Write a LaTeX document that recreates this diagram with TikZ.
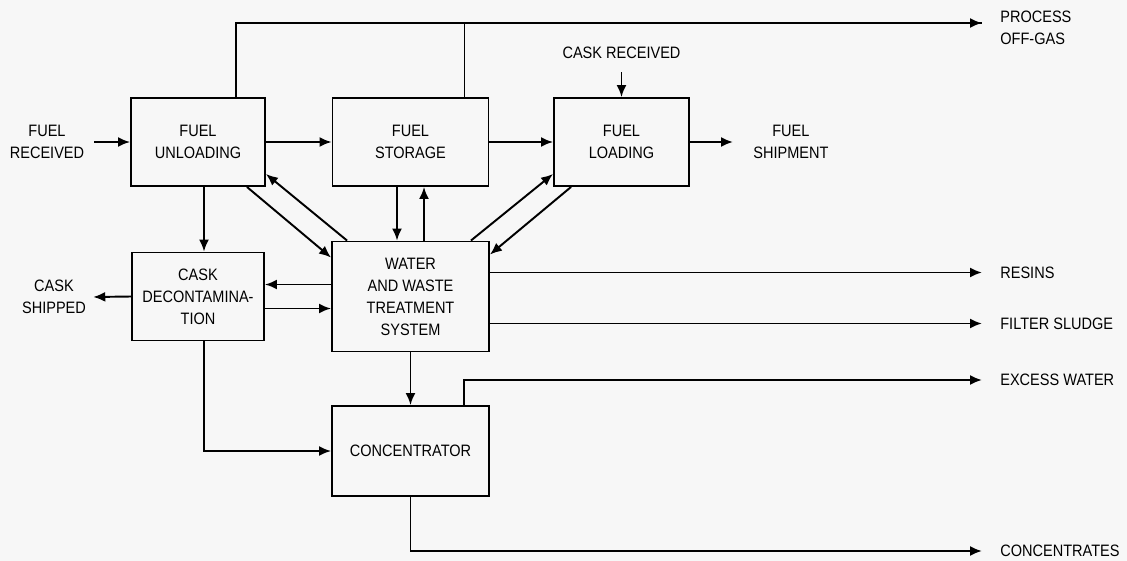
\documentclass[tikz,border=0pt]{standalone}
\usepackage{fontspec}
\setmainfont{Liberation Sans}[FakeStretch=0.88]
\usetikzlibrary{arrows.meta, positioning, calc}

\begin{document}
\begin{tikzpicture}[
    x=0.02cm, y=-0.02cm,
    every node/.style={font=\fontsize{9.4}{12.5}\selectfont},
    block/.style={rectangle, draw=black, line width=1.1pt, align=center, inner sep=0pt, minimum height=1.76cm},
    flowtext/.style={align=center, inner sep=0pt},
    line/.style={line width=1.1pt},
    arrow/.style={line width=1.1pt, -{Latex[length=2.4mm, width=2mm]}}
]

\useasboundingbox (0,0) rectangle (1127,561);
\fill[black!3] (0,0) rectangle (1127,561);

% process blocks
\node (unload) [block, minimum width=2.68cm] at (198,142) {FUEL\\UNLOADING};
\node (storage) [block, minimum width=3.12cm] at (410.5,142) {FUEL\\STORAGE};
\node (loading) [block, minimum width=2.7cm] at (621.5,142) {FUEL\\LOADING};
\node (cask) [block, minimum width=2.64cm] at (198,296.5) {CASK\\DECONTAMINA-\\TION};
\node (water) [block, minimum width=3.14cm, minimum height=2.2cm] at (410.5,296.5) {WATER\\AND WASTE\\TREATMENT\\SYSTEM};
\node (conc) [block, minimum width=3.14cm, minimum height=1.8cm] at (410.5,451) {CONCENTRATOR};

% inputs and outputs
\node (frecv) [flowtext] at (47,142) {FUEL\\RECEIVED};
\node (crecv) [flowtext] at (621.5,53) {CASK RECEIVED};
\node (fship) [flowtext, anchor=west] at (753,142) {FUEL\\SHIPMENT};
\node (cship) [flowtext] at (54,297) {CASK\\SHIPPED};

\coordinate (offgas-in) at (982,23);
\coordinate (resins-in) at (982,272.5);
\coordinate (sludge-in) at (982,323.5);
\coordinate (excess-in) at (982,380);
\coordinate (concout-in) at (982,551);

\node (offgas) [flowtext, align=left, anchor=north west] at (1000,11) {PROCESS\\OFF-GAS};
\node (resins) [flowtext, right=0.36cm of resins-in] {RESINS};
\node (sludge) [flowtext, right=0.36cm of sludge-in] {FILTER SLUDGE};
\node (excess) [flowtext, right=0.36cm of excess-in] {EXCESS WATER};
\node (concout) [flowtext, right=0.36cm of concout-in] {CONCENTRATES};

% main fuel path
\draw [arrow] ([xshift=0.2cm]frecv.east) -- (unload.west);
\draw [arrow] (unload) -- (storage);
\draw [arrow] (storage) -- (loading);
\draw [arrow] (loading.east) -- ([xshift=-0.4cm]fship.west);
\draw [arrow] ([yshift=-0.26cm]crecv.south) -- (loading.north);

% off-gas header
\draw [arrow] ($(unload.north)+(38,0)$) |- (offgas-in);
\draw [line] ($(storage.north)+(54,0)$) |- (offgas-in);

% cask decontamination
\draw [arrow] ($(unload.south)+(6,0)$) -- ($(cask.north)+(6,0)$);
\draw [arrow] (cask.west) -- ([xshift=0.14cm]cship.east);
\draw [arrow] ($(water.west)+(0,-12)$) -- ($(cask.east)+(0,-12)$);
\draw [arrow] ($(cask.east)+(0,12)$) -- ($(water.west)+(0,12)$);
\draw [arrow] ($(cask.south)+(6,0)$) |- (conc.west);

% water and waste treatment links
\draw [arrow] ($(water.north west)+(16,0)$) -- ($(unload.south east)+(0,-13)$);
\draw [arrow] ($(unload.south east)+(-19,0)$) -- ($(water.north west)+(0,17)$);
\draw [arrow] ($(storage.south)+(-13.5,0)$) -- ($(water.north)+(-13.5,0)$);
\draw [arrow] ($(water.north)+(13.5,0)$) -- ($(storage.south)+(13.5,0)$);
\draw [arrow] ($(water.north east)+(-19,0)$) -- ($(loading.south west)+(0,-13)$);
\draw [arrow] ($(loading.south west)+(18,0)$) -- ($(water.north east)+(0,14)$);

% outputs
\draw [arrow] ($(water.east)+(0,-24)$) -- (resins-in);
\draw [arrow] ($(water.east)+(0,27)$) -- (sludge-in);
\draw [arrow] (water) -- (conc);
\draw [arrow] ($(conc.north)+(53.5,0)$) |- (excess-in);
\draw [arrow] (conc.south) |- (concout-in);

\end{tikzpicture}
\end{document}
